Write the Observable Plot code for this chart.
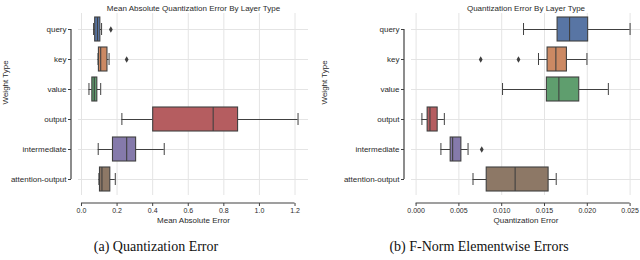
<!DOCTYPE html>
<html>
<head>
<meta charset="utf-8">
<script src="https://cdn.jsdelivr.net/npm/d3@7"></script>
<script src="https://cdn.jsdelivr.net/npm/@observablehq/plot@0.6"></script>
<style>
  html, body { margin: 0; padding: 0; background: #fff; }
  #page { position: relative; width: 640px; height: 260px; overflow: hidden; }
  #row { display: flex; }
  .cap { position: absolute; top: 239px; font-family: "Liberation Serif", "Times New Roman", serif; font-size: 14px; color: #111; transform: translateX(-50%); white-space: nowrap; }
</style>
</head>
<body>
<div id="page">
  <div id="row"></div>
  <div class="cap" style="left:156px">(a) Quantization Error</div>
  <div class="cap" style="left:479px">(b) F-Norm Elementwise Errors</div>
</div>
<script>
const categories = ["query", "key", "value", "output", "intermediate", "attention-output"];
const palette = ["#5875a4", "#cc8963", "#5f9e6e", "#b55d60", "#857aab", "#8d7866"];

// Left panel: mean absolute error
const maeLow  = [0.068, 0.093, 0.042, 0.227, 0.094, 0.098];
const maeQ1   = [0.077, 0.098, 0.061, 0.403, 0.177, 0.104];
const maeMed  = [0.090, 0.108, 0.072, 0.740, 0.254, 0.115];
const maeQ3   = [0.106, 0.146, 0.089, 0.880, 0.307, 0.162];
const maeHigh = [0.113, 0.155, 0.108, 1.217, 0.465, 0.190];
const maeOutlierCats = ["query", "key"];
const maeOutlierVals = [0.165, 0.254];
const maeTicks = [0, 0.2, 0.4, 0.6, 0.8, 1.0, 1.2];

// Right panel: F-norm quantization error
const feLow  = [0.01255, 0.01430, 0.01010, 0.00068, 0.00290, 0.00665];
const feQ1   = [0.01653, 0.01536, 0.01528, 0.00135, 0.00404, 0.00825];
const feMed  = [0.01793, 0.01633, 0.01668, 0.00162, 0.00427, 0.01157];
const feQ3   = [0.02010, 0.01762, 0.01906, 0.00252, 0.00529, 0.01548];
const feHigh = [0.02500, 0.01996, 0.02246, 0.00330, 0.00607, 0.01637];
const feOutlierCats = ["key", "key", "intermediate"];
const feOutlierVals = [0.00755, 0.01196, 0.00767];
const feTicks = [0, 0.005, 0.010, 0.015, 0.020, 0.025];

const edge = "#404040";
const gridC = "#e4e4e4";
const textC = "#2a2a2a";

function panel(o) {
  const rows = categories.map((c, i) => ({cat: c, low: o.low[i], q1: o.q1[i], med: o.med[i], q3: o.q3[i], high: o.high[i]}));
  const outs = o.oc.map((c, i) => ({cat: c, v: o.ov[i]}));
  const all = o.low.concat(o.high, o.ov);
  const lo = d3.min(all), hi = d3.max(all), m = (hi - lo) * 0.05;
  const W = 320, H = 232, mt = 13, mb = 37;
  const plot = Plot.plot({
    width: W, height: H,
    marginLeft: o.ml, marginRight: o.mr, marginTop: mt, marginBottom: mb,
    style: {fontFamily: "'Liberation Sans', Arial, sans-serif", fontSize: "7px", color: textC, background: "#fff"},
    x: {domain: [lo - m, hi + m], axis: null},
    y: {domain: categories, padding: 0, axis: null},
    color: {domain: categories, range: palette},
    marks: [
      Plot.ruleX(o.ticks, {stroke: gridC, strokeWidth: 1}),
      Plot.ruleY(categories, {stroke: gridC, strokeWidth: 1}),
      Plot.ruleY(rows, {y: "cat", x1: "low", x2: "q1", stroke: edge, strokeWidth: 1}),
      Plot.ruleY(rows, {y: "cat", x1: "q3", x2: "high", stroke: edge, strokeWidth: 1}),
      Plot.tickX(rows, {x: "low", y: "cat", stroke: edge, insetTop: 9, insetBottom: 9}),
      Plot.tickX(rows, {x: "high", y: "cat", stroke: edge, insetTop: 9, insetBottom: 9}),
      Plot.barX(rows, {x1: "q1", x2: "q3", y: "cat", fill: "cat", stroke: edge, strokeWidth: 1.1, insetTop: 3, insetBottom: 3}),
      Plot.tickX(rows, {x: "med", y: "cat", stroke: edge, strokeWidth: 1.1, insetTop: 3, insetBottom: 3}),
      Plot.dot(outs, {x: "v", y: "cat", symbol: "diamond", r: 2, fill: edge, stroke: null}),
      Plot.axisX(o.ticks, {anchor: "bottom", tickSize: 3, tickPadding: 2, dy: 8, tickFormat: o.fmt, label: null, fontSize: 7, stroke: edge, fill: textC}),
      Plot.axisY({anchor: "left", tickSize: 3, tickPadding: 2, dx: -7, label: null, fontSize: 8, stroke: edge, fill: textC}),
      Plot.text([o.title], {frameAnchor: "top", dy: -8, fontSize: 8, fill: textC}),
      Plot.text([o.xlabel], {frameAnchor: "bottom", dy: 27, fontSize: 8, fill: textC}),
      Plot.text(["Weight Type"], {frameAnchor: "left", rotate: -90, dx: o.yldx, fontSize: 8, fill: textC})
    ]
  });
  // offset, trimmed spines (seaborn despine style) from Plot's scales
  const xs = plot.scale("x"), ys = plot.scale("y");
  const svg = d3.select(plot);
  const bw = ys.bandwidth;
  const yTop = ys.apply(categories[0]) + bw / 2;
  const yBot = ys.apply(categories[categories.length - 1]) + bw / 2;
  svg.append("line").attr("x1", o.ml - 7).attr("x2", o.ml - 7).attr("y1", yTop).attr("y2", yBot)
    .attr("stroke", edge).attr("stroke-width", 1.2);
  const yb = H - mb + 8;
  svg.append("line").attr("x1", xs.apply(o.ticks[0])).attr("x2", xs.apply(o.ticks[o.ticks.length - 1]))
    .attr("y1", yb).attr("y2", yb).attr("stroke", edge).attr("stroke-width", 1.2);
  return plot;
}

const row = document.getElementById("row");
row.appendChild(panel({
  low: maeLow, q1: maeQ1, med: maeMed, q3: maeQ3, high: maeHigh,
  oc: maeOutlierCats, ov: maeOutlierVals, ticks: maeTicks, fmt: d3.format(".1f"),
  title: "Mean Absolute Quantization Error By Layer Type", xlabel: "Mean Absolute Error",
  ml: 78, mr: 12, yldx: -73
}));
row.appendChild(panel({
  low: feLow, q1: feQ1, med: feMed, q3: feQ3, high: feHigh,
  oc: feOutlierCats, ov: feOutlierVals, ticks: feTicks, fmt: d3.format(".3f"),
  title: "Quantization Error By Layer Type", xlabel: "Quantization Error",
  ml: 91, mr: 0, yldx: -87
}));
</script>
</body>
</html>
